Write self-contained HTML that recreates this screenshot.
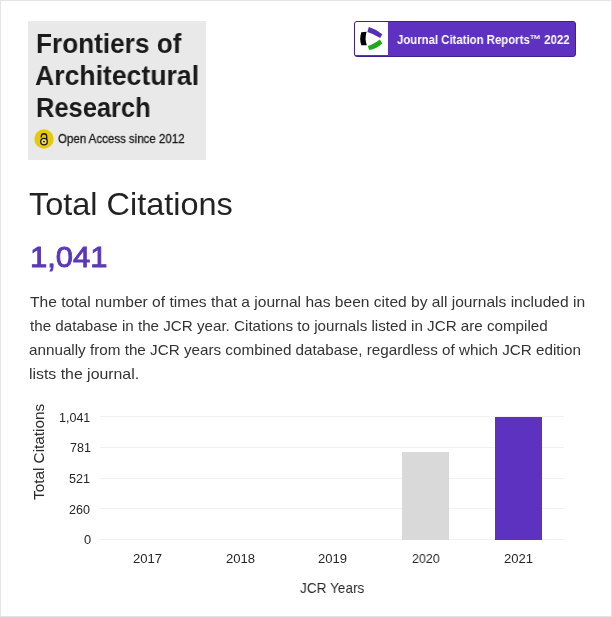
<!DOCTYPE html>
<html><head><meta charset="utf-8">
<style>
html,body{margin:0;padding:0;background:#fff;}
body{width:612px;height:617px;position:relative;overflow:hidden;font-family:"Liberation Sans",sans-serif;}
.frame{position:absolute;left:0;top:0;width:610px;height:615px;border:1px solid #e4e4e4;}
.t{position:absolute;white-space:nowrap;line-height:1;transform-origin:0 0;will-change:transform;}
.grid{position:absolute;left:100px;width:464px;height:1px;background:#f1f1f1;}
</style></head><body>
<div class="frame"></div>
<div style="position:absolute;left:28px;top:21px;width:178px;height:139px;background:#e9e9e9;"></div>
<div class="t" style="left:36.0px;top:30.0px;font-size:27.91px;font-weight:bold;color:#1a1a1a;transform:scaleX(0.9379);">Frontiers of</div>
<div class="t" style="left:35.0px;top:61.8px;font-size:27.62px;font-weight:bold;color:#1a1a1a;transform:scaleX(0.9631);">Architectural</div>
<div class="t" style="left:36.3px;top:94.0px;font-size:27.62px;font-weight:bold;color:#1a1a1a;transform:scaleX(0.9223);">Research</div>
<svg style="position:absolute;left:0;top:0;overflow:visible" width="1" height="1">
<circle cx="44" cy="139" r="9.7" fill="#e5c90c"/>
<path d='M41.3 137.6 V136.4 A2.7 2.7 0 0 1 46.7 136.4 V139.6' fill='none' stroke='#1a1a1a' stroke-width='1.35'/><circle cx='44' cy='141.6' r='3.3' fill='#efe07a' stroke='#1a1a1a' stroke-width='1.35'/><circle cx='44' cy='141.6' r='0.95' fill='#1a1a1a'/>
</svg>
<div class="t" style="left:58.0px;top:133.0px;font-size:12.5px;-webkit-text-stroke:0.3px currentColor;color:#1a1a1a;transform:scaleX(0.9197);">Open Access since 2012</div>
<div style='position:absolute;left:354px;top:21px;width:222px;height:36px;box-sizing:border-box;border:1.5px solid #40208f;border-radius:3px;background:#5e31c0;overflow:hidden;'><div style='position:absolute;left:0;top:0;width:32.5px;height:33px;background:#fff;'></div></div><svg style='position:absolute;left:0;top:0;overflow:visible' width='1' height='1'><path d='M361.30 32.30 Q359.10 38.65 361.30 45.20 L366.80 45.20 Q364.50 38.90 366.60 31.80 Z' fill='#000'/><path d='M368.80 27.10 Q375.65 29.15 382.30 34.20 L380.20 38.00 Q373.40 33.65 367.40 31.90 Z' fill='#5530b5'/><path d='M369.20 50.10 Q376.85 48.45 382.30 43.40 L379.80 39.50 Q373.40 44.45 367.80 46.00 Z' fill='#1bab1b'/></svg>
<div class="t" style="left:397.1px;top:34.2px;font-size:12.5px;font-weight:bold;color:#fff;transform:scaleX(0.9101);">Journal Citation Reports&#8482; 2022</div>
<div class="t" style="left:29.0px;top:188.9px;font-size:31.83px;color:#222;transform:scaleX(1.0197);">Total Citations</div>
<div class="t" style="left:29.7px;top:242.2px;font-size:30.23px;-webkit-text-stroke:0.9px currentColor;color:#5a38b8;transform:scaleX(1.0247);">1,041</div>
<div class="t" style="left:29.6px;top:293.6px;font-size:15.12px;color:#333;transform:scaleX(1.0311);">The total number of times that a journal has been cited by all journals included in</div>
<div class="t" style="left:30.3px;top:318.4px;font-size:15.12px;color:#333;transform:scaleX(1.0039);">the database in the JCR year. Citations to journals listed in JCR are compiled</div>
<div class="t" style="left:29.0px;top:342.4px;font-size:15.12px;color:#333;transform:scaleX(1.0079);">annually from the JCR years combined database, regardless of which JCR edition</div>
<div class="t" style="left:29.1px;top:366.3px;font-size:15.12px;color:#333;transform:scaleX(1.0485);">lists the journal.</div>
<div class="grid" style="top:416px"></div>
<div class="grid" style="top:447px"></div>
<div class="grid" style="top:478px"></div>
<div class="grid" style="top:508px"></div>
<div class="grid" style="top:539px"></div>
<div class="t" style="left:59.1px;top:411.5px;font-size:12.5px;color:#262626;transform:scaleX(0.9868);">1,041</div>
<div class="t" style="left:69.9px;top:442.1px;font-size:12.5px;color:#262626;transform:scaleX(0.9803);">781</div>
<div class="t" style="left:69.4px;top:473.0px;font-size:12.5px;color:#262626;transform:scaleX(1.006);">521</div>
<div class="t" style="left:69.4px;top:503.5px;font-size:12.5px;color:#262626;transform:scaleX(1.006);">260</div>
<div class="t" style="left:83.7px;top:534.2px;font-size:12.5px;color:#262626;transform:scaleX(1.0289);">0</div>
<div class="t" style="left:31.5px;top:499.8px;font-size:14.97px;color:#2a2a2a;transform:rotate(-90deg) scaleX(1.023);">Total Citations</div>
<div style="position:absolute;left:402px;top:452px;width:47px;height:88px;background:#d9d9d9;"></div>
<div style="position:absolute;left:495px;top:417px;width:47px;height:123px;background:#5d32c0;"></div>
<div class="t" style="left:132.8px;top:551.9px;font-size:13.08px;color:#262626;transform:scaleX(0.9859);">2017</div>
<div class="t" style="left:225.6px;top:551.9px;font-size:13.08px;color:#262626;transform:scaleX(0.9859);">2018</div>
<div class="t" style="left:318.4px;top:551.9px;font-size:13.08px;color:#262626;transform:scaleX(0.9859);">2019</div>
<div class="t" style="left:411.5px;top:551.9px;font-size:13.08px;color:#262626;transform:scaleX(0.9536);">2020</div>
<div class="t" style="left:504.0px;top:551.9px;font-size:13.08px;color:#262626;transform:scaleX(0.9859);">2021</div>
<div class="t" style="left:300.1px;top:580.2px;font-size:15.41px;color:#2a2a2a;transform:scaleX(0.8831);">JCR Years</div>
</body></html>
